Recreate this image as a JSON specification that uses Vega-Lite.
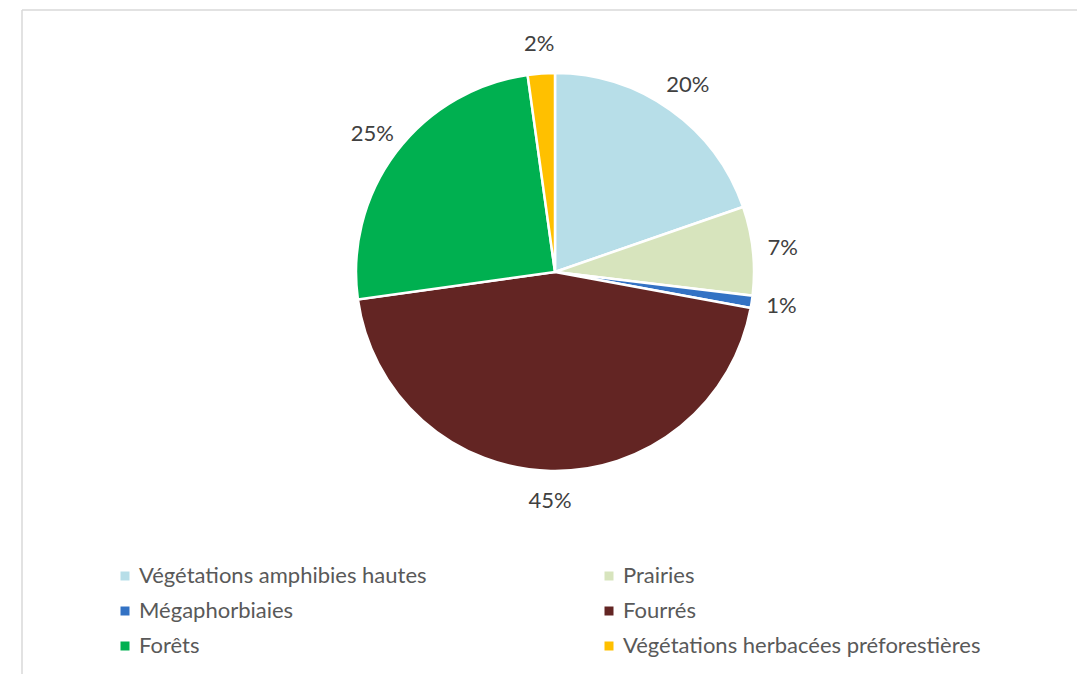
{
  "$schema": "https://vega.github.io/schema/vega-lite/v6.json",
  "width": 1066,
  "height": 524,
  "autosize": {"type": "none"},
  "padding": {"left": 22, "top": 10, "right": 0, "bottom": 140},
  "background": "white",
  "config": {"view": {"stroke": null}},
  "data": {
    "values": [
      {"i": 1, "cat": "Végétations amphibies hautes", "value": 19.7, "label": "20%"},
      {"i": 2, "cat": "Prairies", "value": 7.2, "label": "7%"},
      {"i": 3, "cat": "Mégaphorbiaies", "value": 1.0, "label": "1%"},
      {"i": 4, "cat": "Fourrés", "value": 44.9, "label": "45%"},
      {"i": 5, "cat": "Forêts", "value": 25.0, "label": "25%"},
      {"i": 6, "cat": "Végétations herbacées préforestières", "value": 2.2, "label": "2%"}
    ]
  },
  "layer": [
    {
      "data": {"values": [{}]},
      "mark": {"type": "rule", "color": "#d9d9d9", "strokeWidth": 1.5},
      "encoding": {"x": {"value": 0}, "y": {"value": 0}, "y2": {"value": 664}}
    },
    {
      "data": {"values": [{}]},
      "mark": {"type": "rule", "color": "#d9d9d9", "strokeWidth": 1.5},
      "encoding": {"x": {"value": 0}, "x2": {"value": 1055}, "y": {"value": 0}}
    },
    {
      "mark": {"type": "arc", "outerRadius": 199, "stroke": "white", "strokeWidth": 2.5},
      "encoding": {
        "theta": {"field": "value", "type": "quantitative", "stack": true},
        "order": {"field": "i", "type": "quantitative"},
        "color": {
          "field": "cat",
          "type": "nominal",
          "sort": null,
          "scale": {
            "domain": ["Végétations amphibies hautes", "Mégaphorbiaies", "Forêts", "Prairies", "Fourrés", "Végétations herbacées préforestières"],
            "range": ["#B7DEE8", "#3372C4", "#00B050", "#D7E4BD", "#632523", "#FFC000"]
          },
          "legend": {
            "orient": "none",
            "legendX": 92,
            "legendY": 555,
            "columns": 2,
            "columnPadding": 171,
            "rowPadding": 13,
            "padding": 0,
            "title": null,
            "symbolType": "square",
            "symbolSize": 81,
            "symbolStrokeWidth": 0,
            "labelOffset": 3,
            "labelFont": "Lato",
            "labelFontSize": 22,
            "labelColor": "#595959",
            "labelLimit": 500
          }
        }
      }
    },
    {
      "mark": {"type": "text", "radius": 229, "font": "Lato", "fontSize": 22, "color": "#404040"},
      "encoding": {
        "theta": {"field": "value", "type": "quantitative", "stack": true},
        "order": {"field": "i", "type": "quantitative"},
        "text": {"field": "label", "type": "nominal"}
      }
    }
  ]
}
